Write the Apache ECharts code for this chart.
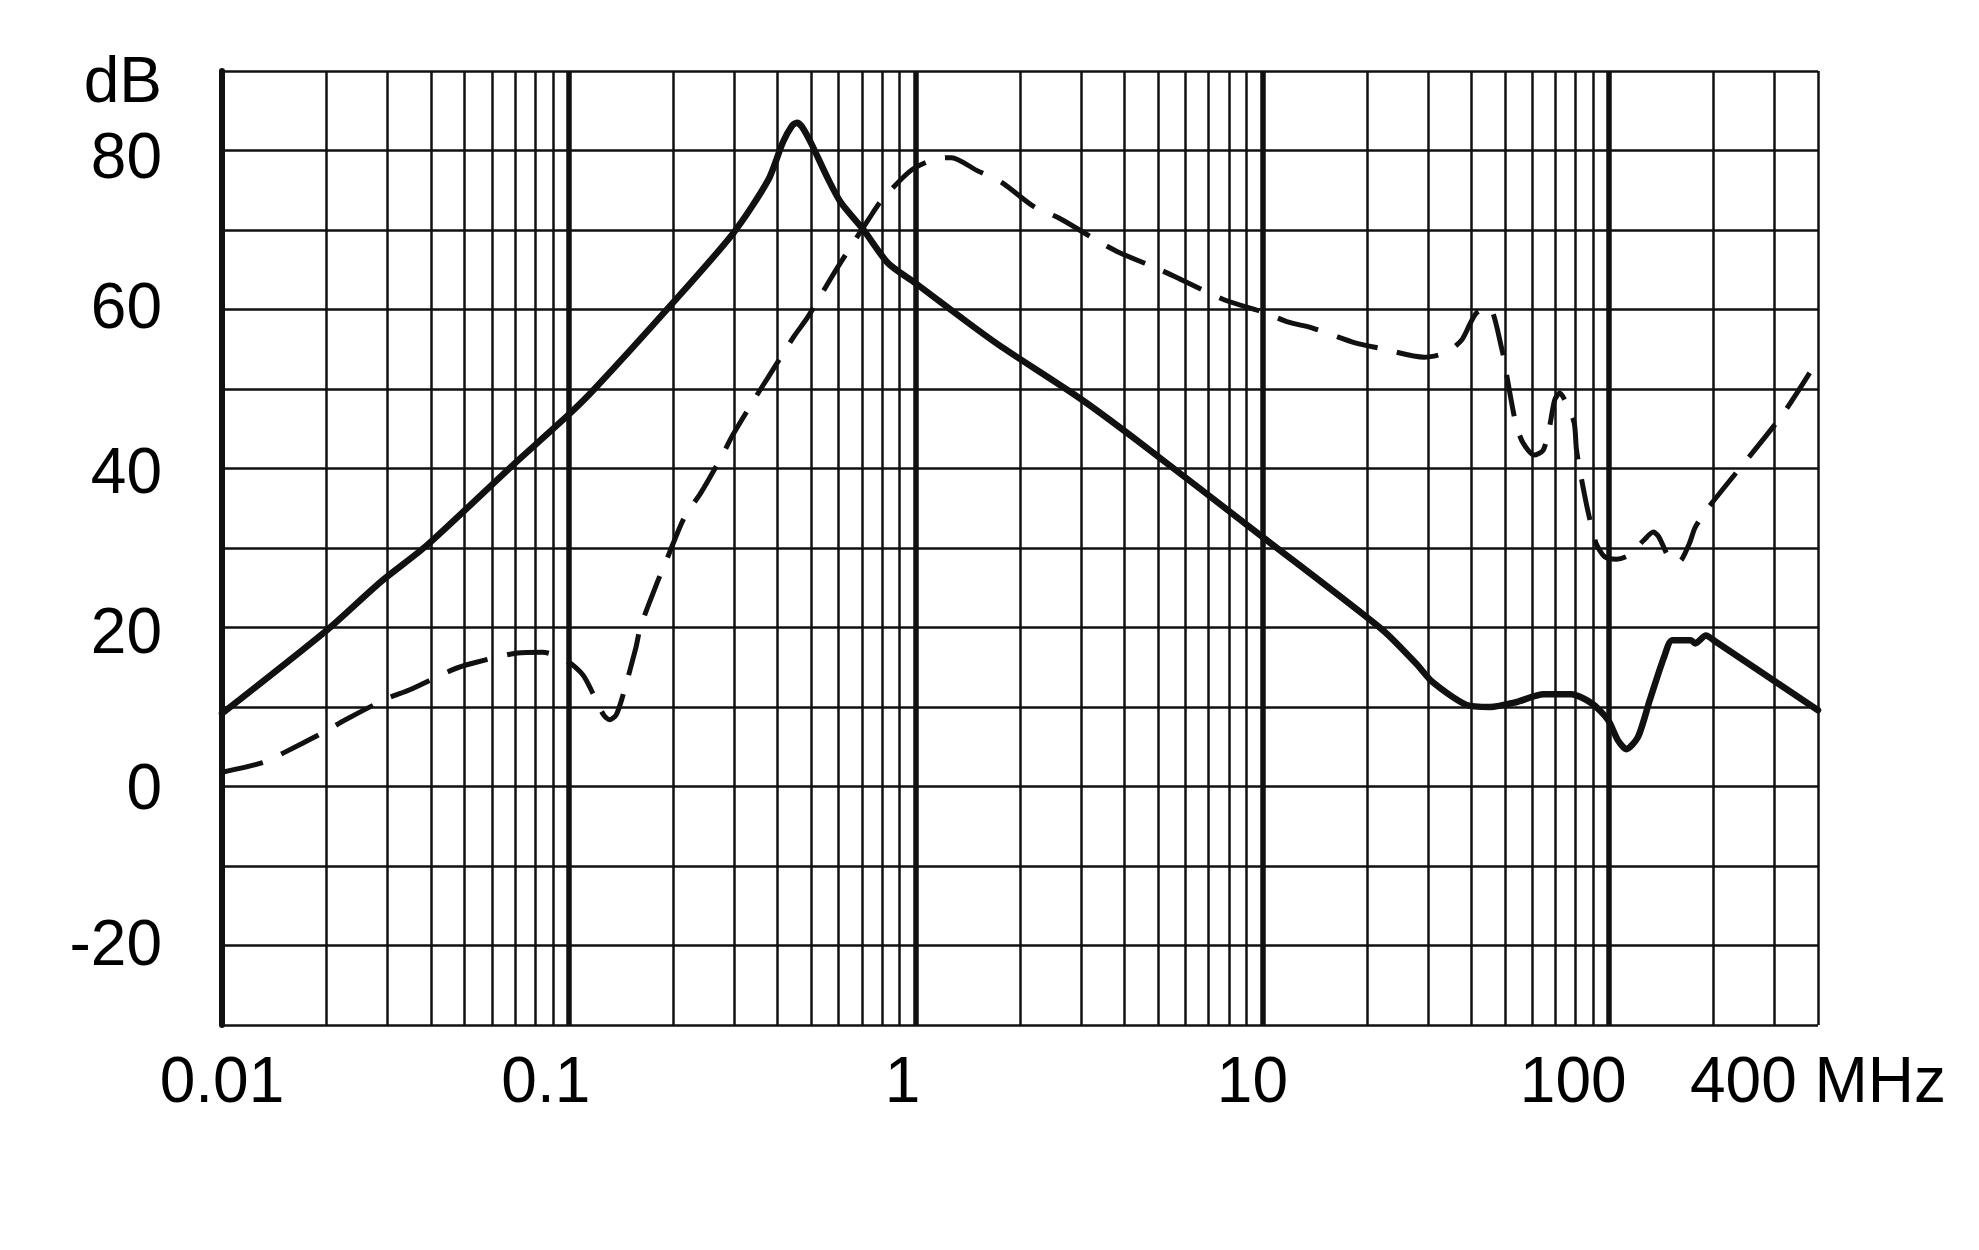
<!DOCTYPE html>
<html>
<head>
<meta charset="utf-8">
<script src="https://cdn.jsdelivr.net/npm/echarts@6/dist/echarts.min.js"></script>
<style>
html,body{margin:0;padding:0;background:#fff;}
#chart{width:1979px;height:1250px;}
</style>
</head>
<body>
<div id="chart"></div>
<script>
// ---- data (frequency in MHz, attenuation in dB) ----
const solidFreq = [0.01, 0.0201, 0.0286, 0.0391, 0.0689, 0.0995, 0.118, 0.1945, 0.298, 0.376, 0.414, 0.44, 0.455, 0.47, 0.5, 0.561, 0.61, 0.708, 0.834, 1.0, 1.42, 1.77, 2.96, 4.33, 10, 22.2, 27.7, 31, 38.6, 45.3, 53.8, 64.7, 77.7, 88.8, 99.1, 106, 112, 121, 131, 144, 152, 172, 177, 190, 203, 400];
const solidDb   = [9.2, 19.7, 25.7, 30.4, 40.4, 46.7, 49.9, 60.3, 69.6, 76.3, 81.0, 83.1, 83.5, 83.0, 80.9, 76.3, 73.4, 70, 65.8, 63.3, 58.3, 55.3, 48.9, 43.6, 31.4, 19.7, 15.5, 13.1, 10.3, 10.0, 10.6, 11.6, 11.6, 10.5, 8.4, 5.8, 4.7, 6.2, 10.9, 16.3, 18.4, 18.4, 18.0, 19.0, 18.2, 9.6];

const dashFreq = [0.01, 0.0131, 0.015, 0.0198, 0.0227, 0.03, 0.0345, 0.0463, 0.0528, 0.0711, 0.084, 0.0995, 0.11, 0.118, 0.126, 0.131, 0.137, 0.144, 0.156, 0.161, 0.18, 0.193, 0.215, 0.24, 0.275, 0.297, 0.346, 0.376, 0.444, 0.488, 0.571, 0.62, 0.731, 0.8, 0.97, 1.13, 1.27, 1.5, 1.77, 2.2, 2.59, 3.33, 3.85, 5.07, 5.86, 7.79, 10, 11.9, 13.9, 18.5, 22, 29.3, 34, 37.6, 39.8, 41.5, 45, 49.1, 50.6, 53.7, 56.3, 60.7, 64.5, 67.2, 69.6, 72, 75.3, 79.3, 80.5, 84.7, 87.6, 91.6, 97, 105, 114, 126, 134, 139, 150, 159, 170, 177, 194, 315, 400];
const dashDb   = [1.8, 3.0, 4.2, 6.9, 8.4, 11.1, 12.1, 14.7, 15.5, 16.8, 16.9, 15.7, 14.0, 11.5, 9.0, 8.4, 9.0, 11.8, 17.4, 20.1, 25.7, 28.9, 33.8, 36.9, 41.4, 44.2, 49, 51.5, 56.5, 59, 64, 66.5, 71.3, 73.8, 77.5, 78.9, 79.1, 77.5, 76, 72.9, 71.5, 68.7, 67.2, 65, 63.7, 61.2, 59.7, 58.4, 57.7, 55.8, 55.1, 54, 54.6, 56.2, 58.3, 59.6, 60.3, 54.9, 51.8, 45.8, 43.3, 41.7, 42.3, 45.1, 48.6, 49.5, 48.2, 45.7, 42.3, 36.9, 33.9, 30.6, 28.9, 28.6, 29.1, 31, 32, 31.4, 28.5, 28.3, 30.5, 32.6, 35.2, 46.7, 53.7];

// tick labels
const xTickValues = [0.01, 0.1, 1, 10, 100, 400];
const xTickLabels = ['0.01', '0.1', '1', '10', '100', '400 MHz'];
const yTickValues = [90, 80, 60, 40, 20, 0, -20];
const yTickLabels = ['dB', '80', '60', '40', '20', '0', '-20'];

// grid line frequencies
const decadeFreqs = [0.1, 1, 10, 100];
const minorFreqs = [0.02, 0.03, 0.04, 0.05, 0.06, 0.07, 0.08, 0.09,
  0.2, 0.3, 0.4, 0.5, 0.6, 0.7, 0.8, 0.9,
  2, 3, 4, 5, 6, 7, 8, 9,
  20, 30, 40, 50, 60, 70, 80, 90,
  200, 300, 400];

const chart = echarts.init(document.getElementById('chart'), null, {renderer: 'canvas'});
const FONT = '"Liberation Sans", Arial, sans-serif';
const INK = '#111';

const gridLines = [];
minorFreqs.forEach(f => gridLines.push({xAxis: f, lineStyle: {width: 2.5, color: INK, type: 'solid'}}));
decadeFreqs.forEach(f => gridLines.push({xAxis: f, lineStyle: {width: 5.5, color: INK, type: 'solid'}}));

function nearestIndex(arr, v) {
  let best = -1, bd = Infinity;
  arr.forEach((a, i) => {
    const d = Math.abs(Math.log10(a) - Math.log10(v));
    if (d < bd) { bd = d; best = i; }
  });
  return bd < 0.01 ? best : -1;
}

function tok(pad) {
  return {fontFamily: FONT, fontSize: 64, color: '#000', padding: pad};
}

const xRich = {
  x0: tok([0, 0, 0, 0]),
  x1: tok([0, 46, 0, 0]),
  x2: tok([0, 26, 0, 0]),
  x3: tok([0, 20, 0, 0]),
  x4: tok([0, 72, 0, 0]),
  x5: tok([0, 0, 0, 0])
};
const yRich = {
  y0: tok([26, 0, 0, 0]),
  y1: tok([20, 0, 0, 0]),
  y2: tok([2, 0, 0, 0]),
  y3: tok([14, 0, 0, 0]),
  y4: tok([16, 0, 0, 0]),
  y5: tok([10, 0, 0, 0]),
  y6: tok([4, 0, 0, 0])
};

const option = {
  animation: false,
  backgroundColor: '#fff',
  grid: {left: 222, right: 161, top: 71, bottom: 225},
  xAxis: {
    type: 'log',
    logBase: 10,
    min: 0.01,
    max: 400,
    axisLine: {show: false},
    axisTick: {show: false},
    splitLine: {show: false},
    minorTick: {show: false},
    minorSplitLine: {show: false},
    axisLabel: {
      show: true,
      showMinLabel: true,
      showMaxLabel: true,
      margin: 27,
      color: '#000',
      fontFamily: FONT,
      fontSize: 64,
      formatter: function (v) {
        const i = nearestIndex(xTickValues, v);
        if (i < 0) return '';
        return '{x' + i + '|' + xTickLabels[i] + '}';
      },
      rich: xRich
    }
  },
  yAxis: {
    type: 'value',
    min: -30,
    max: 90,
    interval: 10,
    axisLine: {show: true, lineStyle: {color: INK, width: 6}},
    axisTick: {show: false},
    splitLine: {show: true, lineStyle: {color: INK, width: 2.5}},
    axisLabel: {
      margin: 60,
      color: '#000',
      fontFamily: FONT,
      fontSize: 64,
      showMinLabel: true,
      showMaxLabel: true,
      formatter: function (v) {
        const i = yTickValues.indexOf(Math.round(v));
        return i < 0 ? '' : '{y' + i + '|' + yTickLabels[i] + '}';
      },
      rich: yRich
    }
  },
  series: [
    {
      name: 'grid',
      type: 'line',
      z: 1,
      data: [],
      silent: true,
      markLine: {
        silent: true,
        symbol: ['none', 'none'],
        label: {show: false},
        emphasis: {disabled: true},
        animation: false,
        data: gridLines
      }
    },
    {
      name: 'dashed',
      type: 'line',
      z: 3,
      data: dashFreq.map((f, i) => [f, dashDb[i]]),
      showSymbol: false,
      smooth: 0.25,
      silent: true,
      lineStyle: {color: INK, width: 5, type: [42, 20], cap: 'butt', join: 'round'}
    },
    {
      name: 'solid',
      type: 'line',
      z: 4,
      data: solidFreq.map((f, i) => [f, solidDb[i]]),
      showSymbol: false,
      smooth: 0.25,
      silent: true,
      lineStyle: {color: INK, width: 6.5, type: 'solid', cap: 'round', join: 'round'}
    }
  ]
};
chart.setOption(option);
</script>
</body>
</html>
